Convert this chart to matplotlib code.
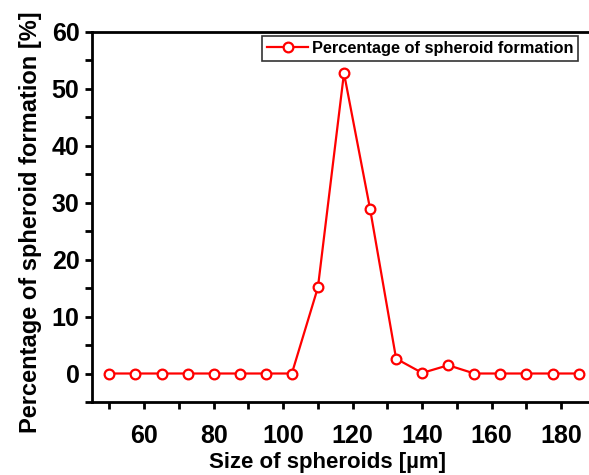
import numpy as np
import matplotlib
matplotlib.use('Agg')
import matplotlib.pyplot as plt
from matplotlib.ticker import MultipleLocator

# Data
sizes = [50, 57.5, 65, 72.5, 80, 87.5, 95, 102.5, 110, 117.5, 125, 132.5,
         140, 147.5, 155, 162.5, 170, 177.5, 185]
percent = [0, 0, 0, 0, 0, 0, 0, 0, 15.1, 52.7, 28.9, 2.6,
           0.1, 1.45, 0, 0, 0, 0, 0]
series_label = 'Percentage of spheroid formation'
x_label = 'Size of spheroids [µm]'
y_label = 'Percentage of spheroid formation [%]'

plt.rcParams['font.family'] = ['Liberation Sans', 'DejaVu Sans']
plt.rcParams['font.weight'] = 'bold'

fig = plt.figure(figsize=(5.89, 4.75), dpi=100)
ax = fig.add_axes([92 / 589, 73 / 475, 1 - 92 / 589, (402 - 31.5) / 475])

ax.plot(sizes, percent, color='red', linewidth=1.6, marker='o', markersize=7,
        markerfacecolor='white', markeredgecolor='red', markeredgewidth=1.6,
        label=series_label, zorder=3)

ax.set_xlim(45, 188)
ax.set_ylim(-5, 60)

ax.xaxis.set_major_locator(MultipleLocator(20))
ax.xaxis.set_minor_locator(MultipleLocator(10))
ax.yaxis.set_major_locator(MultipleLocator(10))
ax.yaxis.set_minor_locator(MultipleLocator(5))

for side in ['left', 'bottom', 'top']:
    ax.spines[side].set_linewidth(2)
ax.spines['right'].set_visible(False)

ax.tick_params(axis='both', which='both', direction='out', width=2, length=5)
ax.tick_params(axis='x', which='major', pad=11, labelsize=18)
ax.tick_params(axis='y', which='major', pad=4, labelsize=18)
for lbl in ax.get_xticklabels() + ax.get_yticklabels():
    lbl.set_fontweight('bold')

# x label sits low, right at the bottom edge like the reference
ax.set_xlabel(x_label, fontsize=16, fontweight='bold', va='bottom')
ax.xaxis.set_label_coords(0.474, -0.192)
ax.set_ylabel(y_label, fontsize=17, fontweight='bold')
ax.yaxis.set_label_coords(-0.1, 0.484)

leg = ax.legend(loc='upper right', bbox_to_anchor=(0.978, 0.987),
                borderaxespad=0, frameon=True, fancybox=False,
                edgecolor='black', handlelength=2.5, borderpad=0.3,
                handletextpad=0.22, prop={'weight': 'bold', 'size': 11.8})
leg.get_frame().set_linewidth(1.2)

fig.savefig('out.png', dpi=100)
